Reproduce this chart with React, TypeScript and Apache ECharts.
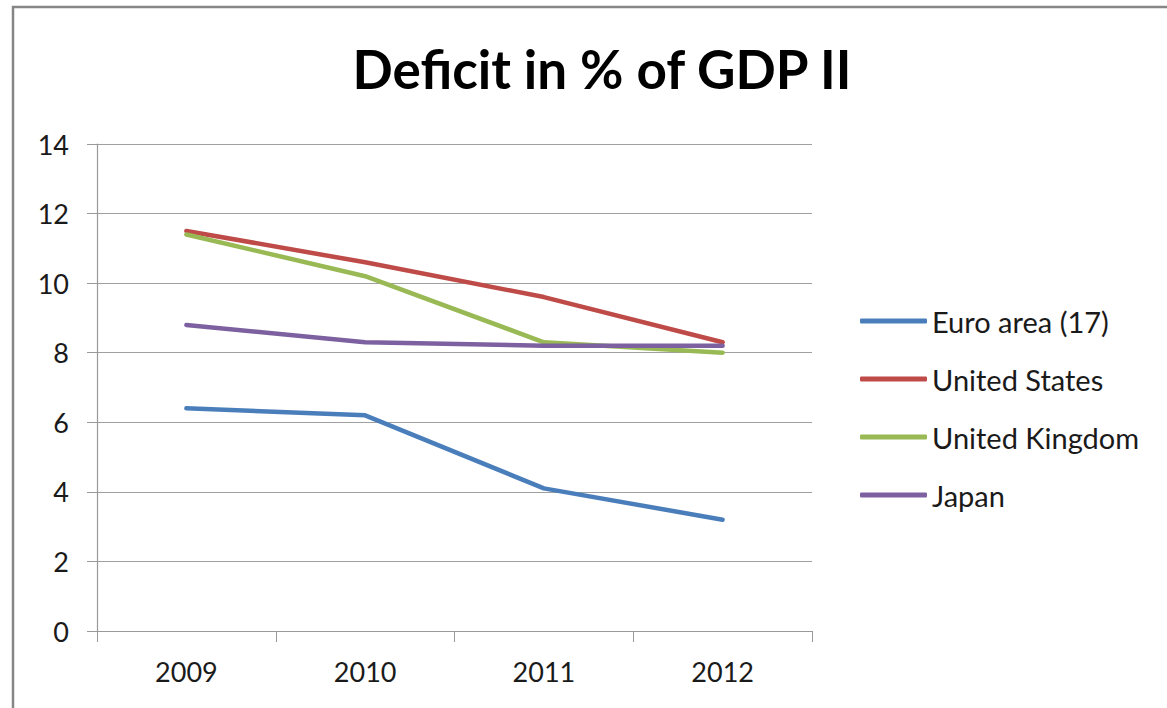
import React, { useEffect, useRef } from "react";
import * as echarts from "echarts";

const years = ["2009", "2010", "2011", "2012"];
const euroArea = [6.4, 6.2, 4.1, 3.2];
const unitedStates = [11.5, 10.6, 9.6, 8.3];
const unitedKingdom = [11.4, 10.2, 8.3, 8.0];
const japan = [8.8, 8.3, 8.2, 8.2];
const seriesNames = ["Euro area (17)", "United States", "United Kingdom", "Japan"];
const seriesColors = ["#4A7EBB", "#BE4B48", "#98B954", "#7D60A0"];

const FONT = "Lato, 'Noto Sans', sans-serif";

export default function App() {
  const ref = useRef<HTMLDivElement>(null);
  useEffect(() => {
    if (!ref.current) return;
    const chart = echarts.init(ref.current, null, { renderer: "svg" });
    const data = [euroArea, unitedStates, unitedKingdom, japan];
    chart.setOption({
      animation: false,
      backgroundColor: "#ffffff",
      title: {
        text: "Deficit in % of GDP II",
        left: 597,
        textAlign: "center",
        top: 37,
        textStyle: { fontFamily: FONT, fontWeight: "bold", fontSize: 53, color: "#000" },
      },
      graphic: [
        {
          type: "rect",
          shape: { x: 13, y: 7, width: 1300, height: 900 },
          style: { fill: "none", stroke: "#868686", lineWidth: 2.5 },
          silent: true,
        },
      ],
      legend: {
        orient: "vertical",
        left: 855,
        top: 301,
        itemWidth: 67,
        itemHeight: 5,
        itemGap: 28,
        icon: "roundRect",
        data: seriesNames,
        textStyle: { fontFamily: FONT, fontSize: 29, color: "#1a1a1a", lineHeight: 30 },
      },
      grid: { left: 97, right: 355, top: 144, bottom: 77, containLabel: false },
      xAxis: {
        type: "category",
        data: years,
        boundaryGap: true,
        axisLine: { lineStyle: { color: "#999", width: 1.2 } },
        axisTick: { show: true, length: 11, inside: false, lineStyle: { color: "#999" } },
        axisLabel: { fontFamily: FONT, fontSize: 27, color: "#1a1a1a", margin: 27 },
        splitLine: { show: false },
      },
      yAxis: {
        type: "value",
        min: 0,
        max: 14,
        interval: 2,
        axisLine: { show: true, lineStyle: { color: "#999", width: 1.2 } },
        axisTick: { show: true, length: 10, lineStyle: { color: "#999" } },
        axisLabel: { fontFamily: FONT, fontSize: 27, color: "#1a1a1a", margin: 28 },
        splitLine: { show: true, lineStyle: { color: "#a0a0a0", width: 1.2 } },
      },
      series: seriesNames.map((name, i) => ({
        name,
        type: "line",
        data: data[i],
        symbol: "none",
        color: seriesColors[i],
        lineStyle: { width: 4.5, color: seriesColors[i], cap: "round", join: "round" },
      })),
    });
    return () => chart.dispose();
  }, []);
  return <div ref={ref} style={{ position: "absolute", left: 0, top: 0, width: 1167, height: 708 }} />;
}
